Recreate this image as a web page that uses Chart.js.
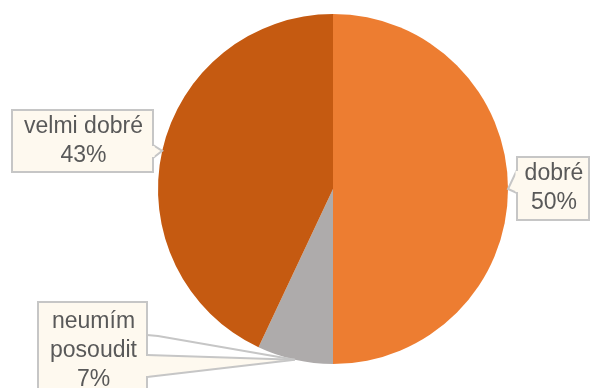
<!DOCTYPE html>
<html>
<head>
<meta charset="utf-8">
<script src="https://cdn.jsdelivr.net/npm/chart.js@4"></script>
<style>
  html, body { margin: 0; padding: 0; background: #fff; }
  #wrap { width: 591px; height: 388px; }
</style>
</head>
<body>
<div id="wrap"><canvas id="pieChart" width="591" height="388"></canvas></div>
<script>
const categories = ['dobré', 'neumím posoudit', 'velmi dobré'];
const values = [50, 7, 43];
const labelLines = [['dobré', '50%'], ['neumím', 'posoudit', '7%'], ['velmi dobré', '43%']];
const colors = ['#ED7D31', '#AEABAB', '#C55A11'];

// callout boxes: x, y, w, h, text centre y, and where the pointer leaves the box
const boxes = [
    { x: 517, y: 157, w: 72, h: 63, cy: 188, side: 'left', b0: 170, b1: 193 },
    { x: 38, y: 302, w: 109, h: 100, cy: 351, side: 'right', b0: 355, b1: 377, extra: 335 },
    { x: 12, y: 110, w: 141, h: 62, cy: 141, side: 'right', b0: 145, b1: 158 }
];

const calloutPlugin = {
    id: 'callouts',
    afterDraw(chart) {
        const ctx = chart.ctx;
        const meta = chart.getDatasetMeta(0);
        meta.data.forEach((arc, i) => {
            const p = arc.getProps(['x', 'y', 'startAngle', 'endAngle', 'outerRadius'], true);
            const mid = (p.startAngle + p.endAngle) / 2;
            const tx = p.x + Math.cos(mid) * p.outerRadius;
            const ty = p.y + Math.sin(mid) * p.outerRadius;
            const b = boxes[i];
            const ex = b.side === 'left' ? b.x : b.x + b.w;

            ctx.save();
            ctx.fillStyle = '#FEF9EF';
            ctx.strokeStyle = '#C6C6C6';
            ctx.lineWidth = 2;

            // box
            ctx.fillRect(b.x, b.y, b.w, b.h);
            ctx.strokeRect(b.x, b.y, b.w, b.h);

            // pointer wedge
            ctx.beginPath();
            ctx.moveTo(ex, b.b0);
            ctx.lineTo(tx, ty);
            ctx.lineTo(ex, b.b1);
            ctx.closePath();
            ctx.fill();
            ctx.beginPath();
            ctx.moveTo(ex, b.b0);
            ctx.lineTo(tx, ty);
            ctx.lineTo(ex, b.b1);
            ctx.stroke();
            // hide the box border under the wedge base
            ctx.fillRect(ex - 1.5, b.b0 + 1, 3, b.b1 - b.b0 - 2);

            if (b.extra) {
                ctx.beginPath();
                ctx.moveTo(ex, b.extra);
                ctx.lineTo(ex + 11, b.extra + 1);
                ctx.lineTo(tx, ty);
                ctx.stroke();
            }

            // text
            ctx.fillStyle = '#595959';
            ctx.font = '23px "Liberation Sans", Arial, sans-serif';
            ctx.textAlign = 'center';
            ctx.textBaseline = 'middle';
            const lines = labelLines[i];
            const lh = 29;
            const y0 = b.cy - (lines.length - 1) * lh / 2;
            lines.forEach((t, k) => ctx.fillText(t, b.x + b.w / 2 + 1, y0 + k * lh));
            ctx.restore();
        });
    }
};

const ctx = document.getElementById('pieChart').getContext('2d');
new Chart(ctx, {
    type: 'pie',
    data: {
        labels: categories,
        datasets: [{
            data: values,
            backgroundColor: colors,
            borderWidth: 0
        }]
    },
    options: {
        responsive: false,
        animation: false,
        layout: { padding: { left: 158, right: 83, top: 14, bottom: 24 } },
        plugins: {
            legend: { display: false },
            tooltip: { enabled: false }
        }
    },
    plugins: [calloutPlugin]
});
</script>
</body>
</html>
